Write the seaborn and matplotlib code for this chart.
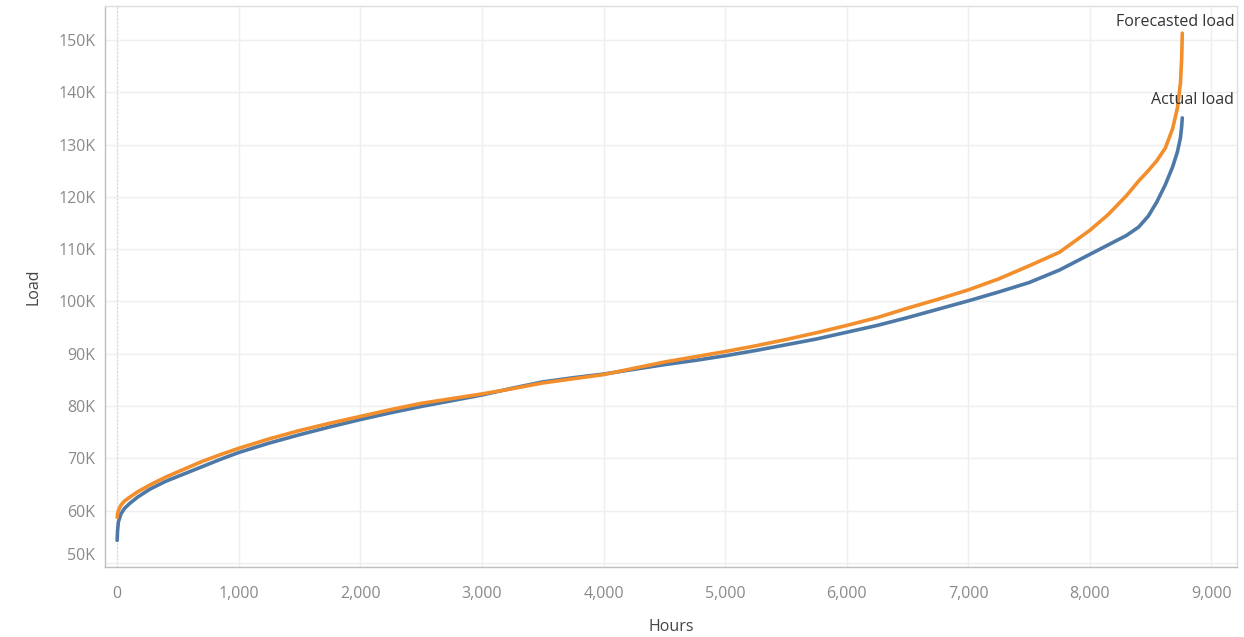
import pandas as pd
import seaborn as sns
import matplotlib.pyplot as plt
from matplotlib.ticker import FuncFormatter, MultipleLocator
from matplotlib.transforms import ScaledTranslation

# Load duration curves (sorted hourly load)
hours = [0, 3, 10, 30, 60, 100, 170, 270, 400, 550, 700, 850, 1000, 1250,
         1500, 1750, 2000, 2250, 2500, 2750, 3000, 3250, 3500, 3750, 4000,
         4250, 4500, 4750, 5000, 5250, 5500, 5750, 6000, 6250, 6500, 6750,
         7000, 7250, 7500, 7750, 8000, 8150, 8300, 8400, 8480, 8550, 8620,
         8680, 8720, 8745, 8755, 8760]
actual_load = [54300, 56000, 57800, 59300, 60400, 61300, 62600, 64100, 65600,
               67000, 68400, 69800, 71100, 72900, 74500, 76000, 77400, 78700,
               79900, 81000, 82100, 83400, 84600, 85400, 86100, 87000, 87900,
               88700, 89600, 90600, 91700, 92800, 94100, 95400, 96900, 98500,
               100100, 101800, 103600, 106000, 109000, 110800, 112600, 114200,
               116300, 119000, 122300, 125700, 128600, 131300, 133500, 135100]
forecast_load = [58700, 59300, 60000, 61000, 61800, 62500, 63600, 64900, 66400,
                 67900, 69400, 70700, 71900, 73700, 75300, 76700, 78000, 79300,
                 80500, 81400, 82300, 83300, 84400, 85200, 86000, 87200, 88400,
                 89400, 90400, 91500, 92700, 94000, 95400, 96900, 98700, 100400,
                 102200, 104300, 106800, 109400, 113600, 116600, 120200, 123000,
                 125000, 126900, 129300, 133000, 137000, 141800, 146500, 151300]
series_names = ["Actual load", "Forecasted load"]
colors = ["#4e79a7", "#f28e2b"]

df = pd.DataFrame({
    "Hours": hours * 2,
    "Load": actual_load + forecast_load,
    "Series": [series_names[0]] * len(hours) + [series_names[1]] * len(hours),
})

sns.set_style("white")
plt.rcParams["font.family"] = ["Open Sans", "DejaVu Sans"]

fig, ax = plt.subplots(figsize=(12.44, 6.37), dpi=100)
fig.subplots_adjust(left=105 / 1244, right=1237 / 1244, top=1 - 6 / 637, bottom=1 - 567 / 637)

sns.lineplot(data=df, x="Hours", y="Load", hue="Series", hue_order=series_names,
             palette=colors, linewidth=2.6, legend=False, ax=ax, estimator=None,
             sort=False)

ax.set_xlim(-100, 9210)
ax.set_ylim(49200, 156500)
ax.set_xticks(range(0, 9001, 1000))
ax.set_yticks(range(50000, 150001, 10000))
ax.xaxis.set_major_formatter(FuncFormatter(lambda v, p: f"{v:,.0f}"))
ax.yaxis.set_major_formatter(FuncFormatter(lambda v, p: f"{v / 1000:.0f}K"))

ax.grid(True, color="#efefef", linewidth=1)
ax.axvline(0, color="#d5d5d5", linestyle=(0, (1, 2)), linewidth=0.9, zorder=1)

for side in ["top", "right"]:
    ax.spines[side].set_color("#dedede")
for side in ["left", "bottom"]:
    ax.spines[side].set_color("#bdbdbd")
for s in ax.spines.values():
    s.set_linewidth(1)

ax.tick_params(axis="both", length=0, labelsize=11.5, colors="#8a8a8a")
ax.tick_params(axis="x", pad=14)
ax.tick_params(axis="y", pad=7)

ax.set_xlabel("Hours", fontsize=11.5, color="#444444", labelpad=12)
ax.set_ylabel("Load", fontsize=11.5, color="#444444", labelpad=12)

# end labels
ax.annotate("Forecasted load", xy=(hours[-1], forecast_load[-1]), xytext=(52, 11),
            textcoords="offset pixels", ha="right", va="center", fontsize=11.5,
            color="#333333")
ax.annotate("Actual load", xy=(hours[-1], actual_load[-1]), xytext=(52, 18),
            textcoords="offset pixels", ha="right", va="center", fontsize=11.5,
            color="#333333")

# lift the bottom y tick label so it stays inside the axis, like the original
fig.canvas.draw()
for tick in ax.yaxis.get_major_ticks():
    if tick.label1.get_text() == "50K":
        lbl = tick.label1
        lbl.set_transform(lbl.get_transform() + ScaledTranslation(0, 9 / 100, fig.dpi_scale_trans))

plt.savefig("out.png", dpi=100)
